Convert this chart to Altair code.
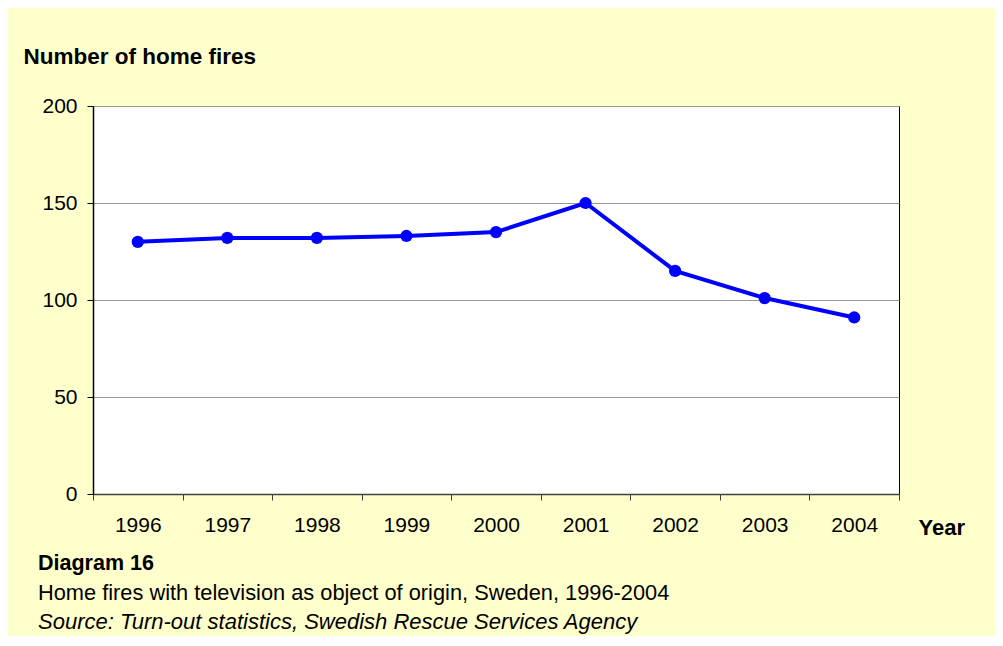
import altair as alt
import pandas as pd

# ---- data ----
years = ["1996", "1997", "1998", "1999", "2000", "2001", "2002", "2003", "2004"]
fires = [130, 132, 132, 133, 135, 150, 115, 101, 91]
y_ticks = [0, 50, 100, 150, 200]

y_title = "Number of home fires"
x_title = "Year"
footer_title = "Diagram 16"
footer_caption = "Home fires with television as object of origin, Sweden, 1996-2004"
footer_source = "Source: Turn-out statistics, Swedish Rescue Services Agency"

df = pd.DataFrame({"year": years, "fires": fires})

FONT = "Liberation Sans"
W, H = 806, 388
FS = 21

x = alt.X(
    "year:O",
    bandPosition=0.5,
    scale=alt.Scale(type="band", paddingInner=0, paddingOuter=0),
    axis=alt.Axis(
        title=x_title, titleAngle=0, titleX=825, titleY=40, titleAlign="left",
        titleBaseline="alphabetic", titleFont=FONT, titleFontSize=22,
        titleFontWeight="bold", titleColor="black",
        labelAngle=0, labelFont=FONT, labelFontSize=FS, labelColor="black",
        labelPadding=14, tickBand="extent", tickSize=6, tickColor="#404040",
        domainColor="#404040", domainWidth=1.5, grid=False,
    ),
)
y = alt.Y(
    "fires:Q",
    scale=alt.Scale(domain=[0, 200], nice=False),
    axis=alt.Axis(
        values=y_ticks, title=y_title, titleAngle=0, titleX=-70, titleY=-43,
        titleAlign="left", titleBaseline="alphabetic", titleFont=FONT,
        titleFontSize=22.5, titleFontWeight="bold", titleColor="black",
        labelFont=FONT, labelFontSize=FS, labelColor="black", labelPadding=10,
        tickSize=6, tickColor="black", domainColor="black", domainWidth=1.5,
        grid=True, gridColor="#999999", gridWidth=1,
    ),
)

line = alt.Chart(df).mark_line(color="#0000FF", strokeWidth=4).encode(x=x, y=y)
pts = alt.Chart(df).mark_circle(color="#0000FF", size=150, opacity=1).encode(x=x, y=y)


def footer(text, y_px, size, **kw):
    return alt.Chart(pd.DataFrame({"t": [text]})).mark_text(
        align="left", baseline="alphabetic", font=FONT, fontSize=size, color="black", **kw
    ).encode(x=alt.value(-55), y=alt.value(y_px), text="t:N")


chart = alt.layer(
    line,
    pts,
    footer(footer_title, 464, 21.5, fontWeight="bold"),
    footer(footer_caption, 494, 21.8),
    footer(footer_source, 523, 22, fontStyle="italic"),
).properties(
    width=W,
    height=H,
    padding={"left": 85, "top": 98, "right": 96, "bottom": 142},
    autosize=alt.AutoSizeParams(type="none"),
    background="#FFFFCC",
).configure_view(fill="white", stroke="black", strokeWidth=1)

chart.save("out.html", embed_options={"renderer": "svg", "actions": False})
